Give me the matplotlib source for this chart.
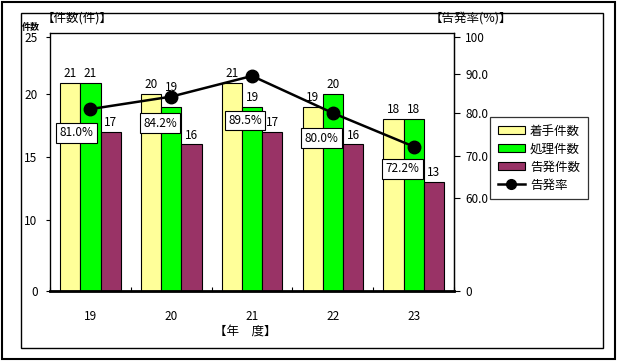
import numpy as np
import matplotlib
matplotlib.use("Agg")
import matplotlib.pyplot as plt
from matplotlib.patches import Rectangle, Patch
from matplotlib.lines import Line2D

plt.rcParams['font.family'] = ['Noto Sans CJK JP', 'DejaVu Sans']

years = ['19', '20', '21', '22', '23']
chakushu = [21, 20, 21, 19, 18]
shori = [21, 19, 19, 20, 18]
kokuhatsu = [17, 16, 17, 16, 13]
rate = [81.0, 84.2, 89.5, 80.0, 72.2]
left_ticks = [0, 10, 15, 20, 25]
right_ticks = [0, 60, 70, 80, 90, 100]
right_labels = ['0', '60.0', '70.0', '80.0', '90.0', '100']
series_names = ['着手件数', '処理件数', '告発件数', '告発率']

# broken-axis style scales (piecewise linear)
L_VALS, L_POS = [0, 10, 15, 20, 25, 25.35], [0, 71, 134, 197, 254, 258]
R_VALS, R_POS = [0, 60, 70, 80, 90, 100, 101], [0, 93, 135, 178, 217, 254, 258]

def mk(vals, pos):
    return (lambda v: np.interp(v, vals, pos), lambda p: np.interp(p, pos, vals))

W, H = 620, 361
fig = plt.figure(figsize=(6.2, 3.61), dpi=100)
fig.patch.set_facecolor('white')

def fx(x): return x / W
def fy(y): return 1 - y / H

# borders
fig.patches.append(Rectangle((fx(1.5), fy(358.5)), fx(615) - fx(1.5), fy(1.5) - fy(358.5),
                             transform=fig.transFigure, fill=False, ec='black', lw=1.5))
fig.patches.append(Rectangle((fx(20.5), fy(347.5)), fx(603) - fx(20.5), fy(12.5) - fy(347.5),
                             transform=fig.transFigure, fill=False, ec='black', lw=1.0))

ax = fig.add_axes([fx(50), fy(291), fx(454) - fx(50), fy(33) - fy(291)])
ax.set_yscale('function', functions=mk(L_VALS, L_POS))
ax.set_ylim(0, L_VALS[-1])
ax.set_xlim(-0.5, len(years) - 0.5)

x = np.arange(len(years))
bw = 0.25
colors = ['#FFFF99', '#00FF00', '#993366']
label_extra = {(1, 1): 7}  # label nudged above the line marker
for i, (vals, c) in enumerate(zip([chakushu, shori, kokuhatsu], colors)):
    xs = x + (i - 1) * bw
    ax.bar(xs, vals, width=bw, color=c, edgecolor='black', linewidth=0.8, zorder=2)
    for j, (xx, v) in enumerate(zip(xs, vals)):
        ax.annotate(str(v), (xx, v), xytext=(0, 2 + label_extra.get((j, i), 0)),
                    textcoords='offset points',
                    ha='center', va='bottom', fontsize=8.5, zorder=5)

ax.set_yticks(left_ticks)
ax.set_yticklabels([str(t) for t in left_ticks], fontsize=8.5)
ax.tick_params(axis='y', direction='out', length=3, pad=6, width=0.8)
ax.set_xticks(x)
ax.set_xticklabels(years, fontsize=8.5)
ax.tick_params(axis='x', length=0, pad=14)
ax.set_xticks(np.arange(len(years) + 1) - 0.5, minor=True)
ax.tick_params(axis='x', which='minor', direction='in', length=3, width=0.8)
for s in ['left', 'top', 'right']:
    ax.spines[s].set_linewidth(0.9)
ax.spines['bottom'].set_linewidth(2.0)

ax2 = ax.twinx()
ax2.set_yscale('function', functions=mk(R_VALS, R_POS))
ax2.set_ylim(0, R_VALS[-1])
ax2.plot(x, rate, color='black', lw=1.8, marker='o', markersize=9, zorder=6)
ax2.set_yticks(right_ticks)
ax2.set_yticklabels(right_labels, fontsize=8.5)
ax2.tick_params(axis='y', direction='out', length=4, pad=4, width=0.8)
ax2.spines['right'].set_linewidth(0.9)

offsets = [(-10, -17), (-8, -19), (-5, -32), (-8, -18), (-8, -16)]
for xx, r, off in zip(x, rate, offsets):
    ax2.annotate(f'{r:.1f}%', (xx, r), xytext=off, textcoords='offset points',
                 ha='center', va='center', fontsize=8.5, zorder=7,
                 bbox=dict(boxstyle='square,pad=0.28', fc='white', ec='black', lw=0.8))

handles = [Patch(fc=c, ec='black', lw=0.8) for c in colors]
handles.append(Line2D([], [], color='black', lw=1.8, marker='o', markersize=7))
leg = fig.legend(handles, series_names, loc='upper left',
                 bbox_to_anchor=(fx(490), fy(117)), frameon=True, fancybox=False,
                 edgecolor='black', fontsize=9, handlelength=2.2, handleheight=0.6,
                 labelspacing=0.4, borderpad=0.6, handletextpad=0.4, borderaxespad=0)
leg.get_frame().set_linewidth(0.9)

fig.text(fx(31), fy(27), '件数', fontsize=6.5, fontweight='bold', ha='center', va='center')
fig.text(fx(42), fy(18), '【件数(件)】', fontsize=9, ha='left', va='center')
fig.text(fx(430), fy(18), '【告発率(%)】', fontsize=9, ha='left', va='center')
fig.text(fx(245), fy(331), '【年　度】', fontsize=9, ha='center', va='center')

fig.savefig('out.png', dpi=100, facecolor='white')
